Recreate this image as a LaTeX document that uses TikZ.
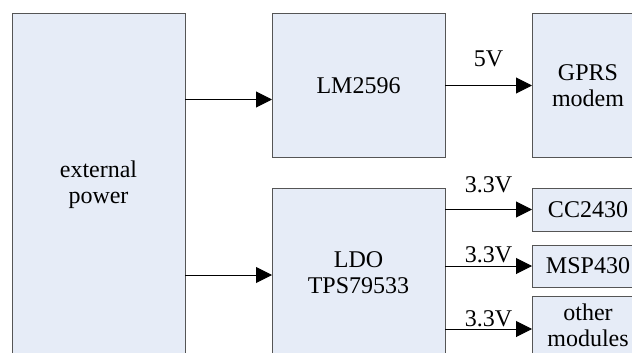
\documentclass[tikz,border=0pt]{standalone}
\usepackage{fontspec}
\setmainfont{Liberation Serif}
\usepackage{xcolor}
\usepackage{tikz}
\usetikzlibrary{positioning, arrows.meta}
\definecolor{boxfill}{RGB}{230,236,247}
\definecolor{boxline}{RGB}{85,85,85}
\tikzset{>={Triangle[length=16pt,width=16pt]},
node distance=87pt,
blk/.style={draw=boxline, fill=boxfill, line width=1pt, inner sep=0pt, outer sep=0pt, align=center},
pwr/.style={->, line width=1pt},
volt/.style={inner sep=0pt, anchor=south}}

\begin{document}
\begin{tikzpicture}[x=1pt,y=-1pt,font=\fontsize{24}{26}\selectfont]
\useasboundingbox (0,0) rectangle (632,353);
\clip (0,0) rectangle (632,353);
\node[blk,minimum width=173pt,minimum height=342pt,anchor=north west] (ext) at (12,14) {external\\power};
\node[blk,minimum width=173pt,minimum height=143pt,right=of ext.north east,anchor=north west] (lm) {LM2596};
\node[blk,minimum width=112pt,minimum height=143pt,right=of lm.north east,anchor=north west] (gprs) {GPRS\\modem};
\node[blk,minimum width=173pt,minimum height=170pt,below=31pt of lm.south west,anchor=north west] (ldo) {LDO\\TPS79533};
\node[blk,minimum width=112pt,minimum height=43pt,right=of ldo.north east,anchor=north west] (cc) {CC2430};
\node[blk,minimum width=112pt,minimum height=42pt,below=14pt of cc.south west,anchor=north west] (msp) {MSP430};
\node[blk,minimum width=112pt,minimum height=66pt,below=9pt of msp.south west,anchor=north west] (other)
  {\begin{tabular}{@{}c@{}}other\\modules\end{tabular}\rule[-22pt]{0pt}{22pt}};
\draw
([yshift=-14pt]ext.east |- lm.west) edge[pwr] ([yshift=-14pt]lm.west)
([yshift=-2pt]ext.east |- ldo.west) edge[pwr] ([yshift=-2pt]ldo.west)
(lm.east) edge[pwr] node[volt,above=18pt]{5V} (gprs.west)
(ldo.east |- cc.west) edge[pwr] node[volt,above=16pt]{3.3V} (cc.west)
(ldo.east |- msp.west) edge[pwr] node[volt,above=3pt]{3.3V} (msp.west)
(ldo.east |- other.west) edge[pwr] node[volt,above=2pt]{3.3V} (other.west)
;
\end{tikzpicture}
\end{document}
